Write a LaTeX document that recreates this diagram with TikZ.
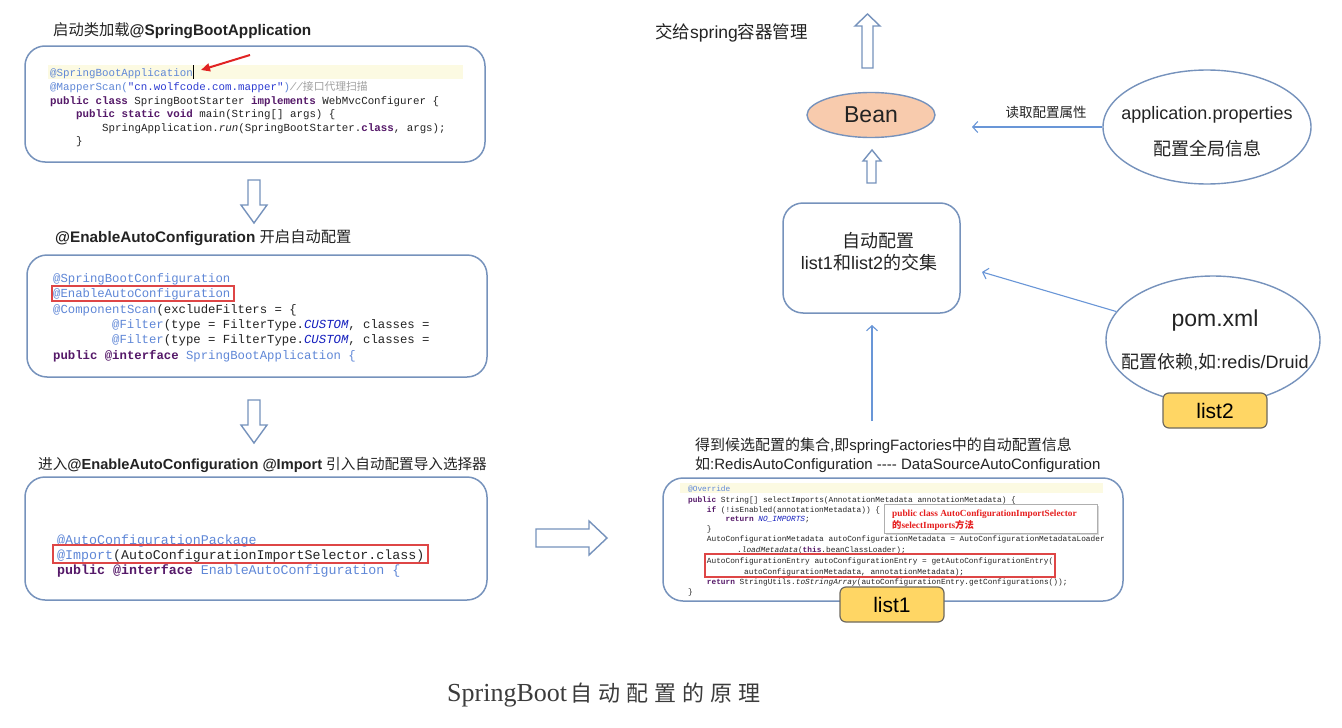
\documentclass[tikz,border=0pt]{standalone}
\usepackage{fontspec}
\setmainfont{Liberation Sans}
\setmonofont{Liberation Mono}
\newfontfamily\cjk{Noto Sans CJK SC}
\newfontfamily\capserif{Liberation Serif}
\usetikzlibrary{arrows.meta,shapes.geometric,shadows}

\definecolor{boxblue}{RGB}{118,146,188}
\definecolor{annot}{RGB}{95,135,215}
\definecolor{kwc}{RGB}{85,25,105}
\definecolor{strc}{RGB}{45,60,210}
\definecolor{cmtc}{RGB}{160,160,160}
\definecolor{konst}{RGB}{20,30,190}
\definecolor{plainc}{RGB}{35,35,35}
\definecolor{hlc}{RGB}{252,250,226}
\definecolor{redboxc}{RGB}{222,70,70}
\definecolor{thinc}{RGB}{105,150,215}
\definecolor{beanfill}{RGB}{248,203,173}
\definecolor{goldc}{RGB}{255,214,100}
\definecolor{goldedge}{RGB}{110,105,95}
\definecolor{txtc}{RGB}{35,35,35}

\newcommand{\cAn}[1]{\textcolor{annot}{#1}}
\newcommand{\cKw}[1]{\textcolor{kwc}{\bfseries #1}}
\newcommand{\cSt}[1]{\textcolor{strc}{#1}}
\newcommand{\cKo}[1]{\textcolor{konst}{\itshape #1}}

\begin{document}
\begin{tikzpicture}[x=1pt,y=-1pt,
  panel/.style={draw=boxblue, line width=1.5pt, rounded corners=20pt, fill=white, inner sep=0pt},
  hollow/.style={draw=boxblue, line width=1.4pt, fill=white, line join=miter},
  title/.style={anchor=base west, inner sep=0pt, text=txtc, font=\fontsize{15.3}{18}\selectfont},
  codeA/.style={anchor=base west, inner sep=0pt, text=plainc, font=\ttfamily\fontsize{10.8}{12}\selectfont},
  codeB/.style={anchor=base west, inner sep=0pt, text=plainc, font=\ttfamily\fontsize{12.3}{14}\selectfont},
  codeC/.style={anchor=base west, inner sep=0pt, text=plainc, font=\ttfamily\fontsize{13.3}{15}\selectfont},
  codeD/.style={anchor=base west, inner sep=0pt, text=plainc, font=\ttfamily\fontsize{7.8}{9}\selectfont},
  redframe/.style={draw=redboxc, line width=1.3pt},
  thinarrow/.style={draw=thinc, line width=1.1pt, -{Straight Barb[length=5pt,width=11pt]}},
  listbox/.style={draw=goldedge, line width=1.2pt, fill=goldc, rounded corners=6pt,
    minimum width=104pt, minimum height=35pt, inner sep=0pt, font=\fontsize{21}{24}\selectfont},
  lbl/.style={inner sep=0pt, text=txtc}
]
\path[use as bounding box, fill=white] (0,0) rectangle (1342,728);

% ---------- left column ----------
\node[title] (t1) at (53,35) {{\cjk 启动类加载}\textbf{@SpringBootApplication}};
\node[panel, minimum width=460pt, minimum height=116pt] (box1) at (255,104) {};
\fill[hlc] (48,65) rectangle (463,79);
\node[codeA] (a1) at (50,76) {\cAn{@SpringBootApplication}};
\node[codeA] (a2) at (50,90) {\cAn{@MapperScan(}\cSt{"cn.wolfcode.com.mapper"}\cAn{)}\textcolor{cmtc}{\itshape //{\cjk 接口代理扫描}}};
\node[codeA] (a3) at (50,104) {\cKw{public class} SpringBootStarter \cKw{implements} WebMvcConfigurer \{};
\node[codeA] (a4) at (76,117) {\cKw{public static void} main(String[] args) \{};
\node[codeA] (a5) at (102,131) {SpringApplication.\textit{run}(SpringBootStarter.\cKw{class}, args);};
\node[codeA] (a6) at (76,144) {\}};
\coordinate (cur1) at (193,65);
\coordinate (cur2) at (193,79);
\draw[black, line width=0.8pt] (cur1) -- (cur2);
\coordinate (ra1) at (250,55);
\coordinate (ra2) at (201,70);
\draw[draw={rgb,255:red,225;green,35;blue,35}, line width=2pt, -{Triangle[length=9pt,width=8pt]}] (ra1) -- (ra2);

\draw[hollow] (248,180) -- (260,180) -- (260,205) -- (267,205) -- (254,223) -- (241,205) -- (248,205) -- cycle;

\node[title] (t2) at (55,242) {\textbf{@EnableAutoConfiguration} {\cjk 开启自动配置}};
\node[panel, minimum width=460pt, minimum height=122pt] (box2) at (257,316) {};
\node[codeB] (b1) at (53,282) {\cAn{@SpringBootConfiguration}};
\node[codeB] (b2) at (53,297) {\cAn{@EnableAutoConfiguration}};
\node[codeB] (b3) at (53,313) {\cAn{@ComponentScan}(excludeFilters = \{};
\node[codeB] (b4) at (112,328) {\cAn{@Filter}(type = FilterType.\cKo{CUSTOM}, classes =};
\node[codeB] (b5) at (112,343) {\cAn{@Filter}(type = FilterType.\cKo{CUSTOM}, classes =};
\node[codeB] (b6) at (53,359) {\cKw{public @interface} \cAn{SpringBootApplication \{}};
\draw[redframe] (52,286) rectangle (234,301);

\draw[hollow] (248,400) -- (260,400) -- (260,425) -- (267,425) -- (254,443) -- (241,425) -- (248,425) -- cycle;

\node[title, font=\fontsize{14.6}{18}\selectfont] (t3) at (38,469) {{\cjk 进入}\textbf{@EnableAutoConfiguration @Import} {\cjk 引入自动配置导入选择器}};
\node[panel, minimum width=462pt, minimum height=123pt] (box3) at (256,538.5) {};
\node[codeC] (c1) at (57,544) {\cAn{@AutoConfigurationPackage}};
\node[codeC] (c2) at (57,559) {\cAn{@Import}(AutoConfigurationImportSelector.class)};
\node[codeC] (c3) at (57,574) {\cKw{public @interface} \cAn{EnableAutoConfiguration \{}};
\draw[redframe] (53,545) rectangle (428,563);

\draw[hollow] (536,529) -- (589,529) -- (589,521) -- (607,538) -- (589,555) -- (589,547) -- (536,547) -- cycle;

% ---------- right column ----------
\node[lbl, anchor=base west, font=\fontsize{17.5}{20}\selectfont] (t4) at (655,38) {{\cjk 交给}spring{\cjk 容器管理}};
\draw[hollow] (862,68) -- (862,26) -- (855,26) -- (867.5,14) -- (880,26) -- (873,26) -- (873,68) -- cycle;

\node[ellipse, draw=boxblue, line width=1.4pt, fill=beanfill, minimum width=128pt, minimum height=45pt,
  font=\fontsize{23}{26}\selectfont, text=txtc] (bean) at (871,115) {Bean};

\draw[hollow] (867,183) -- (867,161) -- (863,161) -- (872,150) -- (881,161) -- (876,161) -- (876,183) -- cycle;

\node[ellipse, draw=boxblue, line width=1.4pt, fill=white, minimum width=208pt, minimum height=114pt] (app) at (1207,127) {};
\node[lbl, font=\fontsize{18}{21}\selectfont] (appt1) at (1207,115) {application.properties};
\node[lbl, font=\cjk\fontsize{18}{21}\selectfont] (appt2) at (1207,149) {配置全局信息};
\coordinate (readend) at (972,127);
\draw[thinarrow] (app.west) -- (readend);
\node[lbl, font=\cjk\fontsize{13.5}{16}\selectfont] (readlbl) at (1046,112) {读取配置属性};

\node[panel, minimum width=177pt, minimum height=110pt] (auto) at (871.5,258) {};
\node[lbl, font=\cjk\fontsize{18}{21}\selectfont] (autot1) at (878,241) {自动配置};
\node[lbl, font=\fontsize{18}{21}\selectfont] (autot2) at (869,263) {list1{\cjk 和}list2{\cjk 的交集}};

\node[ellipse, draw=boxblue, line width=1.4pt, fill=white, minimum width=214pt, minimum height=128pt] (pom) at (1213,340) {};
\node[lbl, font=\fontsize{23}{26}\selectfont] (pomt1) at (1215,321) {pom.xml};
\node[lbl, font=\fontsize{18}{21}\selectfont] (pomt2) at (1215,362) {{\cjk 配置依赖},{\cjk 如}:redis/Druid};
\node[listbox] (list2) at (1215,410.5) {list2};
\coordinate (pomend) at (982,272);
\draw[thinarrow] (pom) -- (pomend);

\node[lbl, anchor=base west, font=\fontsize{15}{18}\selectfont] (cand) at (695,450) {{\cjk 得到候选配置的集合},{\cjk 即}springFactories{\cjk 中的自动配置信息}};
\node[lbl, anchor=base west, font=\fontsize{15}{18}\selectfont] (cand2) at (695,469) {{\cjk 如}:RedisAutoConfiguration -\kern0pt-\kern0pt-\kern0pt- DataSourceAutoConfiguration};
\coordinate (upstart) at (872,421);
\coordinate (upend) at (872,325);
\draw[thinarrow] (upstart) -- (upend);

\node[panel, minimum width=460pt, minimum height=123pt] (box4) at (893,539.5) {};
\fill[hlc] (680,483) rectangle (1103,493);
\node[codeD] (d1) at (688,491) {\cAn{@Override}};
\node[codeD] (d2) at (688,502) {\cKw{public} String[] selectImports(AnnotationMetadata annotationMetadata) \{};
\node[codeD] (d3) at (706.7,512) {\cKw{if} (!isEnabled(annotationMetadata)) \{};
\node[codeD] (d4) at (725.4,521) {\cKw{return} \cKo{NO\_IMPORTS};};
\node[codeD] (d5) at (706.7,531) {\}};
\node[codeD] (d6) at (706.7,541) {AutoConfigurationMetadata autoConfigurationMetadata = AutoConfigurationMetadataLoader};
\node[codeD] (d7) at (737,552) {.\textit{loadMetadata}(\cKw{this}.beanClassLoader);};
\node[codeD] (d8) at (706.7,563) {AutoConfigurationEntry autoConfigurationEntry = getAutoConfigurationEntry(};
\node[codeD] (d9) at (744,574) {autoConfigurationMetadata, annotationMetadata);};
\node[codeD] (d10) at (706.7,584) {\cKw{return} StringUtils.\textit{toStringArray}(autoConfigurationEntry.getConfigurations());};
\node[codeD] (d11) at (688,594) {\}};
\draw[redframe] (705,554) rectangle (1055,577);
\node[draw={rgb,255:red,175;green,175;blue,175}, line width=0.8pt, fill=white,
  drop shadow={opacity=0.3, shadow xshift=1.5pt, shadow yshift=-1.5pt},
  minimum width=213pt, minimum height=29pt, inner sep=0pt] (popup) at (990.5,518.5) {};
\node[lbl, anchor=base west, text={rgb,255:red,230;green,30;blue,30}, font=\capserif\bfseries\fontsize{9.3}{11}\selectfont] (pop1) at (892,516) {public class AutoConfigurationImportSelector};
\node[lbl, anchor=base west, text={rgb,255:red,230;green,30;blue,30}, font=\capserif\bfseries\fontsize{9.3}{11}\selectfont] (pop2) at (892,528) {{\cjk 的}selectImports{\cjk 方法}};

\node[listbox] (list1) at (892,604.5) {list1};

% ---------- caption ----------
\node[lbl, anchor=base west, text={rgb,255:red,60;green,60;blue,60}] (cap) at (447,701)
  {\capserif\fontsize{26}{30}\selectfont SpringBoot\hspace{3pt}{\cjk\fontsize{22}{26}\selectfont 自\hspace{6pt}动\hspace{6pt}配\hspace{6pt}置\hspace{6pt}的\hspace{6pt}原\hspace{6pt}理}};
\end{tikzpicture}
\end{document}
